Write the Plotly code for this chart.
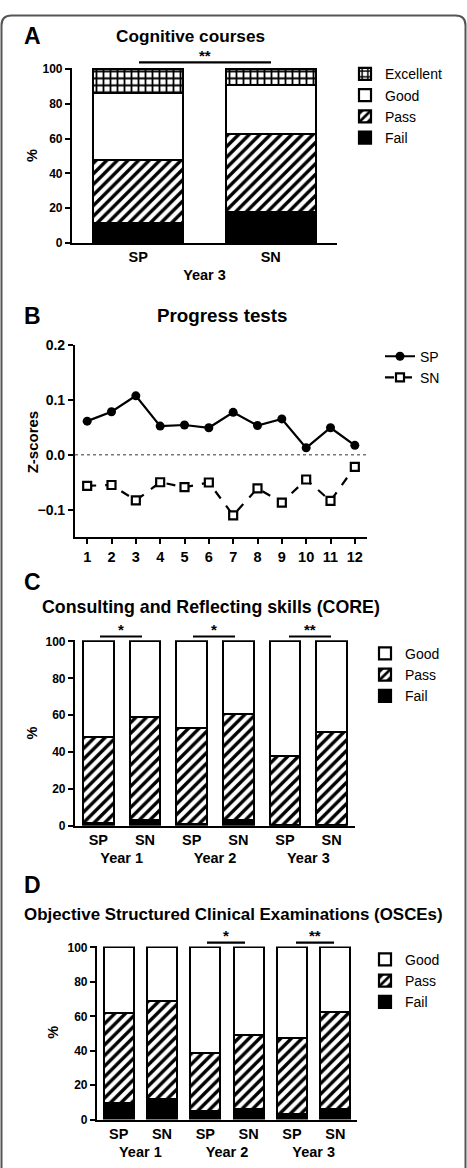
import plotly.graph_objects as go

W, H = 467, 1168
FONT = "Liberation Sans"


def px(x):
    return x / W


def py(y):
    return 1 - y / H


def ydom(p_lo, p_hi, lo, hi, r0, r1):
    s = (p_lo - p_hi) / (hi - lo)
    bottom = p_lo + (lo - r0) * s
    top = p_hi - (r1 - hi) * s
    return [py(bottom), py(top)]


# ---------------- data ----------------
# Panel A: Cognitive courses (Year 3)
a_year = ["Year 3", "Year 3"]
a_groups = ["SP", "SN"]
a_fail = [11.3, 17.9]
a_pass = [36.4, 44.7]
a_good = [38.5, 28.0]
a_excellent = [13.8, 9.4]

# Panel B: Progress tests
b_tests = [1, 2, 3, 4, 5, 6, 7, 8, 9, 10, 11, 12]
b_sp = [0.061, 0.078, 0.107, 0.052, 0.054, 0.049, 0.077, 0.053, 0.065, 0.0125, 0.049, 0.017]
b_sn = [-0.0565, -0.055, -0.083, -0.050, -0.059, -0.0505, -0.110, -0.061, -0.087, -0.045, -0.084, -0.022]

# Panel C: CORE
c_years = ["Year 1", "Year 1", "Year 2", "Year 2", "Year 3", "Year 3"]
c_groups = ["SP", "SN", "SP", "SN", "SP", "SN"]
c_fail = [1.4, 3.0, 0.5, 2.7, 0.0, 0.0]
c_pass = [46.5, 55.6, 52.5, 57.8, 37.7, 50.5]
c_good = [52.1, 41.4, 47.0, 39.5, 62.3, 49.5]

# Panel D: OSCEs
d_years = ["Year 1", "Year 1", "Year 2", "Year 2", "Year 3", "Year 3"]
d_groups = ["SP", "SN", "SP", "SN", "SP", "SN"]
d_fail = [9.2, 11.5, 4.8, 5.7, 2.7, 5.9]
d_pass = [52.2, 57.0, 33.6, 43.1, 44.3, 56.2]
d_good = [38.6, 31.5, 61.6, 51.2, 53.0, 37.9]

# ---------------- styles ----------------
LINE = dict(color="black", width=2.2)
STY = {
    "Fail": dict(color="black", line=LINE),
    "Pass": dict(color="white", line=LINE,
                 pattern=dict(shape="/", fgcolor="black", bgcolor="white", fgopacity=1,
                              size=7.5, solidity=0.45)),
    "Good": dict(color="white", line=LINE),
    "Excellent": dict(color="white", line=LINE,
                      pattern=dict(shape="+", fgcolor="black", bgcolor="white", fgopacity=1,
                                   size=7, solidity=0.45)),
}

fig = go.Figure()


def add_bars(x, series, xa, ya, legend, width):
    for name, vals in series:
        fig.add_trace(go.Bar(x=x, y=vals, name=name, marker=STY[name], width=width,
                             xaxis=xa, yaxis=ya, legend=legend))


add_bars([a_year, a_groups],
         [("Fail", a_fail), ("Pass", a_pass), ("Good", a_good), ("Excellent", a_excellent)],
         "x", "y", "legend", 0.68)

fig.add_trace(go.Scatter(x=b_tests, y=b_sp, name="SP", mode="lines+markers",
                         line=dict(color="black", width=2.2),
                         marker=dict(symbol="circle", size=9, color="black"),
                         xaxis="x2", yaxis="y2", legend="legend2"))
fig.add_trace(go.Scatter(x=b_tests, y=b_sn, name="SN", mode="lines+markers",
                         line=dict(color="black", width=2.2, dash="dash"),
                         marker=dict(symbol="square", size=8, color="white",
                                     line=dict(color="black", width=2.2)),
                         xaxis="x2", yaxis="y2", legend="legend2"))

add_bars([c_years, c_groups],
         [("Fail", c_fail), ("Pass", c_pass), ("Good", c_good)],
         "x3", "y3", "legend3", 0.66)
add_bars([d_years, d_groups],
         [("Fail", d_fail), ("Pass", d_pass), ("Good", d_good)],
         "x4", "y4", "legend4", 0.69)

tickfont_y = dict(family=FONT, size=12, color="black", weight="bold")
tickfont_x = dict(family=FONT, size=14.5, color="black", weight="bold")
axis_common = dict(showline=True, linewidth=2.2, linecolor="black", showgrid=False,
                   zeroline=False, mirror=False)
yax_common = dict(axis_common, ticks="outside", ticklen=5, tickwidth=2, tickcolor="black",
                  tickfont=tickfont_y)
xcat_common = dict(axis_common, type="multicategory", showdividers=False, ticks="",
                   tickfont=tickfont_x)

layout = dict(
    width=W, height=H, autosize=False,
    margin=dict(l=0, r=0, t=0, b=0),
    paper_bgcolor="white", plot_bgcolor="white",
    barmode="stack", bargap=0,
    font=dict(family=FONT, color="black"),
    xaxis=dict(xcat_common, domain=[px(72), px(337)], anchor="y", range=[-0.5, 1.5]),
    yaxis=dict(yax_common, domain=ydom(238, 61.7, 0, 100, 0, 100.6), anchor="x",
               range=[0, 100.6], tickvals=[0, 20, 40, 60, 80, 100]),
    xaxis2=dict(axis_common, domain=[px(75), px(367)], anchor="y2", range=[0.5, 12.5],
                tickvals=b_tests, ticks="outside", ticklen=5, tickwidth=2, tickcolor="black",
                tickfont=dict(family=FONT, size=14.5, color="black", weight="bold")),
    yaxis2=dict(yax_common, domain=ydom(508.3, 341, -0.1, 0.2, -0.15, 0.2), anchor="x2",
                range=[-0.15, 0.2], tickvals=[-0.1, 0.0, 0.1, 0.2], tickformat=".1f",
                tickfont=dict(family=FONT, size=14, color="black", weight="bold")),
    xaxis3=dict(xcat_common, domain=[px(75), px(355)], anchor="y3", range=[-0.5, 5.5]),
    yaxis3=dict(yax_common, domain=ydom(828.3, 641.7, 0, 100, 0, 100.6), anchor="x3",
                range=[0, 100.6], tickvals=[0, 20, 40, 60, 80, 100]),
    xaxis4=dict(xcat_common, domain=[px(97), px(357)], anchor="y4", range=[-0.5, 5.5]),
    yaxis4=dict(yax_common, domain=ydom(1126, 951.7, 0, 100, 0, 100.6), anchor="x4",
                range=[0, 100.6], tickvals=[0, 20, 40, 60, 80, 100]),
)

leg_common = dict(xanchor="left", yanchor="top", traceorder="reversed",
                  bgcolor="rgba(0,0,0,0)", font=dict(family=FONT, size=14, color="black"),
                  tracegroupgap=0)
layout["legend"] = dict(leg_common, x=px(345), y=py(51))
layout["legend2"] = dict(leg_common, x=px(380), y=py(337), traceorder="normal")
layout["legend3"] = dict(leg_common, x=px(365), y=py(638))
layout["legend4"] = dict(leg_common, x=px(365), y=py(948))
fig.update_layout(**layout)

ann = []


def text(x, y, s, size, bold=True, angle=0, xanchor="center", yanchor="middle"):
    ann.append(dict(x=px(x), y=py(y), xref="paper", yref="paper", text=s, showarrow=False,
                    textangle=angle, xanchor=xanchor, yanchor=yanchor,
                    font=dict(family=FONT, size=size, color="black",
                              weight="bold" if bold else "normal")))


# panel letters
for lab, y in [("A", 28), ("B", 312), ("C", 581), ("D", 888)]:
    text(32, y, lab, 23)
# titles
text(190, 28, "Cognitive courses", 17.2)
text(222, 312, "Progress tests", 18.8)
text(211, 607, "Consulting and Reflecting skills (CORE)", 17.8)
text(233, 918, "Objective Structured Clinical Examinations (OSCEs)", 16.9)
# y titles
text(32, 150, "%", 14.5, angle=-90)
text(32, 440, "Z-scores", 15, angle=-90)
text(32, 735, "%", 14.5, angle=-90)
text(53, 1038, "%", 14.5, angle=-90)

shapes = []


def sig(x0, x1, y, stars):
    shapes.append(dict(type="line", xref="paper", yref="paper", x0=px(x0), x1=px(x1),
                       y0=py(y), y1=py(y), line=dict(color="black", width=2.2)))
    text((x0 + x1) / 2, y + 4, stars, 15, yanchor="bottom")


sig(139, 271, 55, "**")
sig(100, 142, 636.7, "*")
sig(193, 235, 636.7, "*")
sig(289, 331, 636.7, "**")
sig(207, 245, 946.7, "*")
sig(296, 334, 946.7, "**")

# dotted zero line in panel B
shapes.append(dict(type="line", xref="x2 domain", yref="y2", x0=0, x1=1, y0=0, y1=0,
                   line=dict(color="#777777", width=1.5, dash="dot"), layer="below"))

# rounded frame
x0, x1, y0, y1, r = 1.5, 465.5, 7.5, 1180, 10
path = (f"M {px(x0)} {py(y0 + r)} Q {px(x0)} {py(y0)} {px(x0 + r)} {py(y0)} "
        f"L {px(x1 - r)} {py(y0)} Q {px(x1)} {py(y0)} {px(x1)} {py(y0 + r)} "
        f"L {px(x1)} {py(y1)} L {px(x0)} {py(y1)} Z")
shapes.append(dict(type="path", xref="paper", yref="paper", path=path,
                   line=dict(color="#555555", width=2), fillcolor="rgba(0,0,0,0)"))

fig.update_layout(annotations=ann, shapes=shapes)
fig.write_html("out.html")
